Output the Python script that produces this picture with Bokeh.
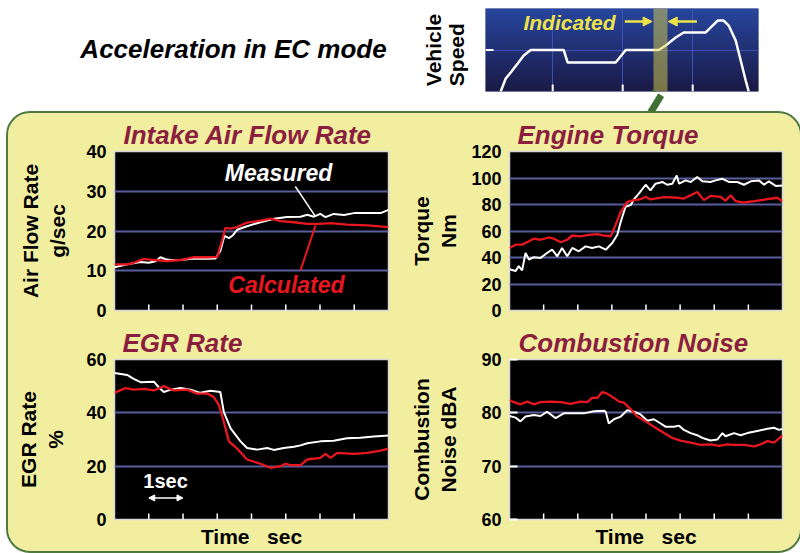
import numpy as np
from bokeh.plotting import figure
from bokeh.layouts import column, row
from bokeh.models import FixedTicker, Label, Arrow, NormalHead, BoxAnnotation, Range1d, Title, Spacer
from bokeh.embed import file_html
from bokeh.resources import INLINE

FONT = "Liberation Sans"
BOX = "#f1eea0"
MAROON = "#8b1e3f"
RED = "#e8161f"
GRID = "#5b5e9e"

# ---------------- data ----------------
speed_t = [25.7, 32.9, 40.0, 50.0, 58.6, 68.6, 115.7, 121.4, 190.0, 204.3, 251.4, 261.4, 275.7,
           287.1, 318.6, 335.7, 344.3, 351.4, 361.4, 368.6, 375.7, 380.0]
speed_v = [0.0, 15.7, 22.9, 33.7, 43.4, 50.0, 50.0, 34.9, 34.9, 50.0, 50.0, 55.4, 65.1,
           71.1, 71.1, 85.5, 85.5, 79.5, 61.4, 37.3, 13.3, 0.0]
speed_ticks_x = [100, 200, 300]
speed_ticks_y = [50]

air_t_meas = [0.00, 0.37, 0.76, 1.00, 1.20, 1.34, 1.49, 1.64, 1.93, 2.32, 2.71, 2.95, 3.09, 3.21, 3.34, 3.44,
              3.58, 3.87, 4.26, 4.65, 5.04, 5.43, 5.63, 5.82, 6.01, 6.16, 6.40, 6.70, 6.99, 7.38, 7.77, 8.00]
air_meas = [10.9, 11.6, 12.2, 12.0, 12.4, 13.4, 12.9, 12.7, 12.7, 13.1, 13.0, 13.1, 15.0, 18.8, 18.2, 18.8,
            20.3, 21.2, 22.2, 23.1, 23.5, 23.6, 24.1, 23.6, 24.3, 23.5, 24.3, 24.0, 24.5, 24.5, 24.5, 25.3]
air_t_calc = [0.00, 0.37, 0.56, 0.86, 1.15, 1.54, 1.93, 2.32, 2.71, 3.00, 3.14, 3.24, 3.39, 3.58, 3.87, 4.26,
              4.55, 4.85, 5.24, 5.63, 6.01, 6.31, 6.79, 7.38, 8.00]
air_calc = [11.6, 11.6, 12.0, 13.0, 12.7, 12.4, 12.7, 13.4, 13.4, 13.5, 17.6, 20.8, 20.6, 21.0, 22.1, 22.6,
            23.1, 22.5, 22.2, 21.8, 21.8, 22.0, 21.6, 21.4, 21.0]

tq_t_meas = [0.00, 0.18, 0.27, 0.37, 0.47, 0.57, 0.71, 0.91, 1.10, 1.25, 1.40, 1.54, 1.69, 1.84, 2.03, 2.23,
             2.42, 2.62, 2.82, 3.01, 3.16, 3.26, 3.40, 3.55, 3.65, 3.79, 3.99, 4.13, 4.28, 4.48, 4.62, 4.77,
             4.90, 4.97, 5.16, 5.31, 5.50, 5.65, 5.89, 6.04, 6.24, 6.43, 6.68, 6.87, 7.07, 7.31, 7.46, 7.60,
             7.80, 8.00]
tq_meas = [31.1, 29.8, 33.5, 30.3, 43.4, 38.5, 40.2, 39.7, 43.4, 45.9, 40.9, 47.2, 40.9, 47.2, 44.7, 48.4,
           47.2, 48.4, 45.9, 50.9, 57.1, 67.0, 78.3, 79.5, 84.0, 88.2, 94.9, 90.7, 95.7, 97.0, 94.9, 95.7,
           101.9, 95.7, 98.2, 97.0, 100.7, 97.5, 97.0, 98.2, 99.4, 97.0, 97.0, 94.9, 97.5, 98.2, 94.9, 97.5,
           94.0, 94.4]
tq_t_calc = [0.00, 0.18, 0.37, 0.57, 0.71, 0.91, 1.15, 1.30, 1.50, 1.69, 1.84, 2.08, 2.33, 2.57, 2.77, 2.96,
             3.11, 3.26, 3.45, 3.65, 3.84, 3.99, 4.13, 4.53, 4.92, 5.11, 5.31, 5.50, 5.70, 5.89, 6.19, 6.33,
             6.48, 6.63, 6.87, 7.17, 7.56, 7.85, 8.00]
tq_calc = [47.2, 49.7, 49.7, 52.2, 54.2, 53.4, 55.1, 54.2, 51.5, 53.4, 56.6, 55.9, 57.1, 57.6, 56.6, 55.9,
           64.6, 74.5, 82.0, 83.3, 84.0, 85.8, 83.8, 85.5, 85.1, 84.5, 87.0, 89.5, 83.3, 86.5, 85.8, 82.8,
           87.0, 82.5, 81.5, 82.5, 84.0, 85.1, 82.5]

egr_t_meas = [0.00, 0.37, 0.56, 0.76, 1.15, 1.29, 1.44, 1.64, 1.93, 2.22, 2.51, 2.80, 3.09, 3.19, 3.39, 3.68,
              3.87, 4.17, 4.46, 4.65, 4.94, 5.24, 5.43, 5.63, 6.01, 6.40, 6.79, 7.18, 7.57, 8.00]
egr_meas = [54.9, 54.2, 52.7, 51.5, 51.7, 49.6, 47.8, 48.7, 49.3, 48.7, 47.5, 48.3, 47.8, 40.4, 34.2, 29.3,
            26.8, 26.2, 26.8, 26.1, 26.8, 27.3, 27.8, 28.6, 29.3, 29.5, 30.5, 30.7, 31.1, 31.5]
egr_t_calc = [0.00, 0.32, 0.56, 0.86, 1.15, 1.44, 1.73, 2.12, 2.41, 2.71, 2.90, 3.05, 3.19, 3.34, 3.58, 3.87,
              4.26, 4.55, 4.85, 4.99, 5.14, 5.43, 5.63, 6.01, 6.16, 6.31, 6.50, 6.99, 7.38, 7.77, 8.00]
egr_calc = [47.5, 49.3, 48.7, 49.0, 48.4, 50.0, 48.4, 48.7, 47.2, 47.2, 45.9, 42.9, 36.7, 29.3, 26.6, 22.5,
            20.9, 19.4, 20.0, 20.9, 20.4, 20.4, 22.5, 23.1, 24.6, 23.1, 25.0, 24.6, 25.0, 25.8, 26.6]

noise_t_meas = [0.00, 0.18, 0.32, 0.47, 0.71, 0.91, 1.10, 1.35, 1.59, 1.89, 2.18, 2.47, 2.77, 2.82, 2.91, 3.06,
                3.26, 3.45, 3.65, 3.84, 4.04, 4.23, 4.43, 4.57, 4.82, 4.97, 5.11, 5.31, 5.50, 5.65, 5.89, 6.09,
                6.24, 6.33, 6.58, 6.77, 6.97, 7.26, 7.56, 7.75, 7.90, 8.00]
noise_meas = [79.4, 79.1, 78.4, 79.3, 79.6, 79.4, 80.2, 79.0, 79.9, 79.9, 79.9, 80.3, 80.4, 80.2, 78.0, 78.8,
              79.3, 80.5, 80.2, 79.7, 78.5, 78.8, 78.0, 77.4, 77.4, 77.6, 76.8, 76.2, 75.8, 75.3, 74.8, 75.0,
              76.2, 75.6, 76.2, 75.8, 76.2, 76.6, 77.0, 77.2, 76.8, 77.0]
noise_t_calc = [0.00, 0.13, 0.32, 0.52, 0.71, 0.91, 1.20, 1.50, 1.79, 2.08, 2.28, 2.42, 2.57, 2.72, 2.86, 3.06,
                3.21, 3.35, 3.55, 3.74, 3.99, 4.23, 4.53, 4.77, 5.01, 5.31, 5.60, 5.89, 6.14, 6.38, 6.58, 6.87,
                7.17, 7.36, 7.56, 7.75, 7.90, 8.00]
noise_calc = [82.4, 82.0, 81.6, 82.1, 81.6, 82.0, 82.1, 82.0, 81.7, 82.1, 82.0, 82.8, 82.8, 83.9, 83.6, 82.8,
              82.1, 81.9, 80.7, 79.3, 78.4, 77.4, 76.2, 75.3, 74.8, 74.4, 74.0, 74.1, 73.8, 74.1, 74.0, 74.0,
              73.7, 74.1, 74.7, 74.4, 75.2, 75.8]

time_ticks = [1, 2, 3, 4, 5, 6, 7]

# ---------------- top left: heading ----------------
txt = figure(width=400, height=113, x_range=Range1d(0, 400), y_range=Range1d(0, 113),
             output_backend="svg", toolbar_location=None, title=None,
             x_axis_location=None, y_axis_location=None, min_border=0,
             background_fill_color="white", border_fill_color="white")
txt.outline_line_color = None
txt.grid.visible = False
txt.add_layout(Label(x=233, y=58, text="Acceleration in EC mode", text_font=FONT,
                     text_font_size="26px", text_font_style="bold italic", text_color="black",
                     text_align="center", text_baseline="middle"))

# ---------------- top right: vehicle speed inset ----------------
sp = figure(width=400, height=113, x_range=Range1d(4, 394), y_range=Range1d(0, 100),
            output_backend="svg", toolbar_location=None,
            title="Vehicle\nSpeed", title_location="left",
            x_axis_location=None, y_axis_location=None,
            min_border_left=85, min_border_right=42, min_border_top=8, min_border_bottom=22,
            background_fill_color="#22306e", border_fill_color="white")
sp.outline_line_color = None
sp.title.text_font = FONT
sp.title.text_font_size = "21px"
sp.title.text_font_style = "bold"
sp.title.text_color = "black"
sp.title.align = "center"
sp.title.standoff = 35

n = 40
img = np.zeros((n, 1), dtype=np.uint32)
view = img.view(dtype=np.uint8).reshape((n, 1, 4))
bot_c = np.array([26, 26, 70]); top_c = np.array([40, 70, 158])
for i in range(n):
    f = i / (n - 1)
    view[i, 0, 0:3] = (bot_c + (top_c - bot_c) * f).astype(np.uint8)
    view[i, 0, 3] = 255
sp.image_rgba(image=[img], x=4, y=0, dw=390, dh=100, level="image")

sp.xgrid.ticker = FixedTicker(ticks=speed_ticks_x)
sp.ygrid.ticker = FixedTicker(ticks=speed_ticks_y)
sp.grid.grid_line_color = "#3d50b8"
sp.grid.grid_line_width = 1
sp.ray(x=speed_ticks_x, y=[0] * len(speed_ticks_x), length=7, angle=np.pi / 2,
       length_units="screen", color="white", line_width=2)
sp.ray(x=[4], y=speed_ticks_y, length=8, angle=0, length_units="screen", color="white", line_width=2)

sp.line(speed_t, speed_v, color="white", line_width=2.5)
sp.add_layout(BoxAnnotation(left=244, right=264, fill_color="#d9d24a", fill_alpha=0.5, line_color=None))
sp.add_layout(Label(x=124, y=83, text="Indicated", text_font=FONT, text_font_size="21px",
                    text_font_style="bold italic", text_color="#eee44a", text_align="center",
                    text_baseline="middle"))
for xs, xe in ((203, 242), (306, 265)):
    sp.add_layout(Arrow(end=NormalHead(size=9, fill_color="#eee44a", line_color="#eee44a"),
                        x_start=xs, x_end=xe, y_start=84.3, y_end=84.3,
                        line_color="#eee44a", line_width=2.5))
sp.add_layout(Arrow(end=NormalHead(size=20, fill_color="#3f6f33", line_color="#3f6f33"),
                    x_start=256, x_end=240, y_start=-3, y_end=-25,
                    line_color="#3f6f33", line_width=7))


# ---------------- panels ----------------
def make_panel(title, ylabel, yr, yticks, grid_ticks, w, h, borders, title_offset, ystand,
               xlabel=None, ytick_in=0):
    l, r, t, b = borders
    p = figure(width=w, height=h, x_range=Range1d(0, 8), y_range=Range1d(*yr),
               output_backend="svg", toolbar_location=None, x_axis_location=None,
               min_border_left=l, min_border_right=r, min_border_top=t, min_border_bottom=b,
               background_fill_color="black", border_fill_alpha=0)
    p.outline_line_color = "#d8d8d8"
    p.outline_line_width = 1.5
    p.title.text = title
    p.title.text_font = FONT
    p.title.text_font_size = "26px"
    p.title.text_font_style = "bold italic"
    p.title.text_color = MAROON
    p.title.align = "left"
    p.title.offset = title_offset
    p.title.standoff = 3

    p.xgrid.grid_line_color = None
    p.ygrid.ticker = FixedTicker(ticks=grid_ticks)
    p.ygrid.grid_line_color = GRID
    p.ygrid.grid_line_width = 2

    # inward time ticks along the bottom edge
    p.ray(x=time_ticks, y=[yr[0]] * len(time_ticks), length=6, angle=np.pi / 2,
          length_units="screen", color="white", line_width=1.5)

    if xlabel:
        p.add_layout(Title(text=xlabel, align="center", text_font=FONT, text_font_size="21px",
                           text_font_style="bold", text_color="black", standoff=6), "below")

    ya = p.yaxis[0]
    ya.ticker = FixedTicker(ticks=yticks)
    ya.major_tick_in = ytick_in
    ya.major_tick_out = 0
    ya.major_tick_line_color = "white"
    ya.major_tick_line_width = 2
    ya.minor_tick_line_color = None
    ya.axis_line_color = None
    ya.major_label_text_font = FONT
    ya.major_label_text_font_size = "18px"
    ya.major_label_text_font_style = "bold"
    ya.major_label_text_color = "black"
    ya.major_label_standoff = 8
    ya.axis_label = ylabel
    ya.axis_label_text_font = FONT
    ya.axis_label_text_font_size = "21px"
    ya.axis_label_text_font_style = "bold"
    ya.axis_label_text_color = "black"
    ya.axis_label_standoff = ystand
    return p


TIME_LABEL = "Time\u00a0\u00a0\u00a0sec"

p1 = make_panel("Intake Air Flow Rate", "Air Flow Rate\ng/sec", (0, 40), [0, 10, 20, 30, 40],
                [10, 20, 30], 392, 211, (106, 12, 38, 14), 9, 14)
p1.line(air_t_meas, air_meas, color="white", line_width=2)
p1.line(air_t_calc, air_calc, color=RED, line_width=2.3)
p1.segment(x0=[5.28], y0=[31.2], x1=[5.87], y1=[23.6], color="white", line_width=1.5)
p1.segment(x0=[5.87], y0=[21.4], x1=[5.43], y1=[10.1], color=RED, line_width=2)
p1.add_layout(Label(x=4.79, y=34.5, text="Measured", text_font=FONT, text_font_size="23px",
                    text_font_style="bold italic", text_color="white", text_align="center",
                    text_baseline="middle"))
p1.add_layout(Label(x=5.02, y=6.3, text="Calculated", text_font=FONT, text_font_size="23px",
                    text_font_style="bold italic", text_color=RED, text_align="center",
                    text_baseline="middle"))

p2 = make_panel("Engine Torque", "Torque\nNm", (0, 120), [0, 20, 40, 60, 80, 100, 120],
                [20, 40, 60, 80, 100], 400, 211, (109, 18, 36, 14), 8, 8)
p2.line(tq_t_meas, tq_meas, color="white", line_width=2)
p2.line(tq_t_calc, tq_calc, color=RED, line_width=2.3)

p3 = make_panel("EGR Rate", "EGR Rate\n%", (0, 60), [0, 20, 40, 60], [20, 40],
                392, 227, (106, 12, 33, 32), 8, 16, xlabel=TIME_LABEL)
p3.line(egr_t_meas, egr_meas, color="white", line_width=2)
p3.line(egr_t_calc, egr_calc, color=RED, line_width=2.3)
p3.add_layout(Label(x=1.49, y=14.4, text="1sec", text_font=FONT, text_font_size="20px",
                    text_font_style="bold", text_color="white", text_align="center",
                    text_baseline="middle"))
p3.add_layout(Arrow(start=NormalHead(size=6, fill_color="white", line_color="white"),
                    end=NormalHead(size=6, fill_color="white", line_color="white"),
                    x_start=1.0, x_end=2.0, y_start=8.1, y_end=8.1,
                    line_color="white", line_width=1.5))

p4 = make_panel("Combustion Noise", "Combustion\nNoise dBA", (60, 90), [60, 70, 80, 90], [70, 80],
                400, 227, (109, 18, 33, 32), 9, 18, xlabel=TIME_LABEL, ytick_in=8)
p4.line(noise_t_meas, noise_meas, color="white", line_width=2)
p4.line(noise_t_calc, noise_calc, color=RED, line_width=2.3)

box = column(row(p1, p2), row(p3, p4),
             styles={"background-color": BOX, "border-radius": "22px",
                     "outline": "2px solid #4e7a3e"})
layout = column(row(txt, sp), row(Spacer(width=8, height=438), box))

open("out.html", "w").write(file_html(layout, INLINE))
